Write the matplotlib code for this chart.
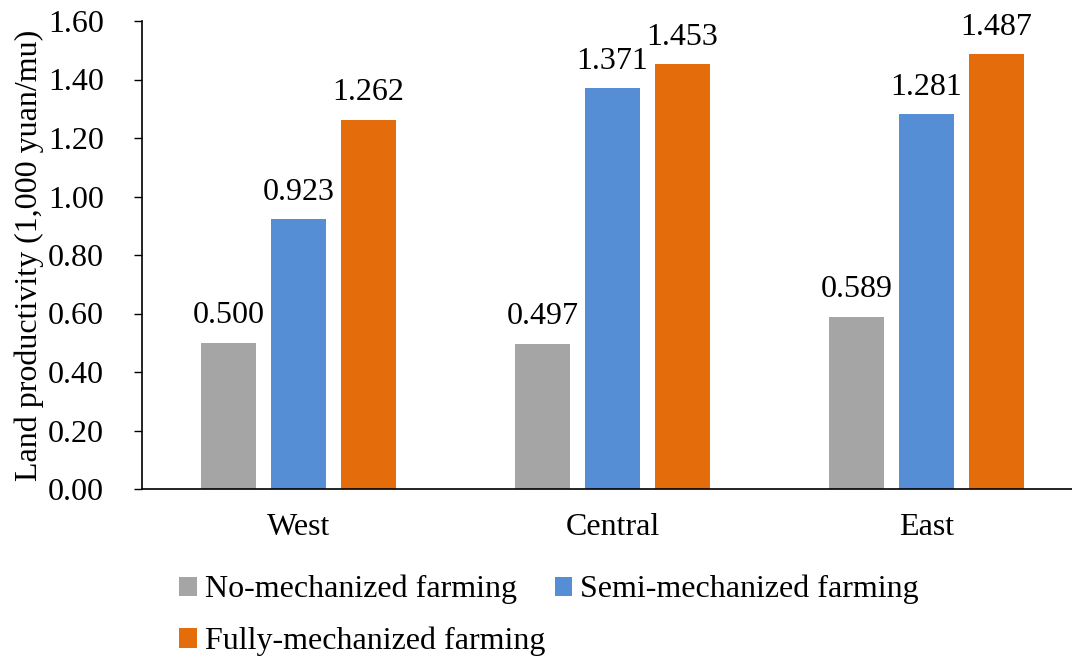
import numpy as np
import matplotlib
matplotlib.use("Agg")
import matplotlib.pyplot as plt

# Land productivity by region and mechanization level
regions = ["West", "Central", "East"]
no_mech = [0.500, 0.497, 0.589]
semi_mech = [0.923, 1.371, 1.281]
full_mech = [1.262, 1.453, 1.487]
series_names = ["No-mechanized farming", "Semi-mechanized farming", "Fully-mechanized farming"]
y_ticks = [0.0, 0.2, 0.4, 0.6, 0.8, 1.0, 1.2, 1.4, 1.6]

plt.rcParams["font.family"] = ["Liberation Serif", "DejaVu Serif"]
fs = 23

W, H = 1072, 657
fig = plt.figure(figsize=(W / 100, H / 100), dpi=100)
# plot area runs past the right edge of the figure
ax = fig.add_axes([141.5 / W, (H - 489) / H, 942 / W, 468 / H])

x = np.arange(len(regions))
bw = 0.175
step = 0.223
colors = ["#A5A5A5", "#558ED5", "#E46C0A"]

bars = []
for k, (vals, c) in enumerate(zip([no_mech, semi_mech, full_mech], colors)):
    b = ax.bar(x + (k - 1) * step, vals, bw, color=c, label=series_names[k])
    bars.append(b)
    for xi, v in zip(x + (k - 1) * step, vals):
        ax.annotate(f"{v:.3f}", (xi, v), xytext=(0, 14), textcoords="offset points",
                    ha="center", va="baseline", fontsize=fs, annotation_clip=False)

ax.set_xlim(-0.5, 2.5)
ax.set_ylim(0, 1.6)
ax.set_yticks(y_ticks)
ax.set_yticklabels([f"{t:.2f}" for t in y_ticks])
ax.set_xticks(x)
ax.set_xticklabels(regions)
ax.tick_params(axis="y", length=6, width=1, pad=21, labelsize=fs)
ax.tick_params(axis="x", length=0, pad=17, labelsize=fs)
for s in ["top", "right"]:
    ax.spines[s].set_visible(False)
for s in ["left", "bottom"]:
    ax.spines[s].set_linewidth(1.2)
ax.set_ylabel("Land productivity (1,000 yuan/mu)", fontsize=fs)
ax.yaxis.set_label_coords(-97 / 942, 0.5)

# row-major ordering for a two-column legend
order = [0, 2, 1]
fig.legend([bars[i] for i in order], [series_names[i] for i in order],
           loc="upper left", bbox_to_anchor=(179 / W, 1 - 575 / H), ncol=2,
           frameon=False, fontsize=fs, handlelength=0.55, handleheight=0.55,
           handletextpad=0.25, columnspacing=0.3, labelspacing=0.7, borderpad=0,
           borderaxespad=0)

fig.savefig("out.png", dpi=100)
